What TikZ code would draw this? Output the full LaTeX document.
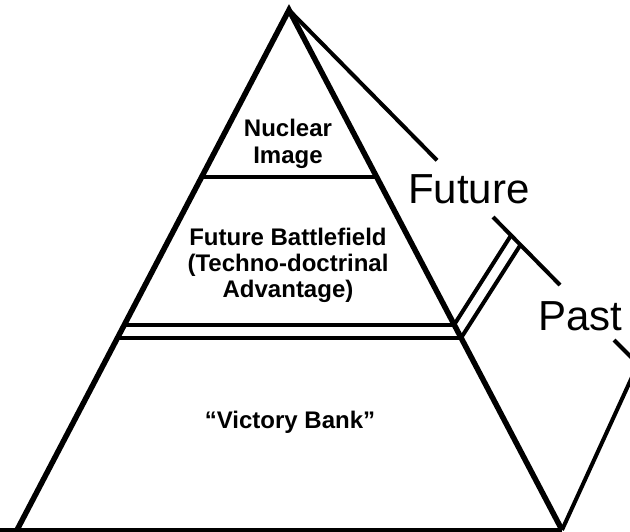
\documentclass[tikz,border=0pt]{standalone}
\usepackage{fontspec}
\setmainfont{Liberation Sans}
\begin{document}
\begin{tikzpicture}[x=1pt,y=-1pt,
  edge/.style={line width=5.5pt,line join=miter},
  thin line/.style={line width=4pt},
  lab/.style={font=\bfseries\fontsize{24}{27}\selectfont,anchor=base,inner sep=0pt},
  big/.style={font=\fontsize{42}{48}\selectfont,anchor=base,inner sep=0pt}]
\useasboundingbox (0,0) rectangle (630,531);
\clip (0,0) rectangle (630,531);
% key points
\coordinate (apex) at (289,10);
\coordinate (bl) at (17,530);
\coordinate (br) at (562,530);
\coordinate (far) at (638,364);
% pyramid
\draw[edge] (bl) -- (apex) -- (br);
\draw[thin line] (0,530) -- (br);
% internal dividers
\coordinate (n1) at (201.6,177); \coordinate (n2) at (376.4,177);
\draw[thin line] (n1) -- (n2);
\coordinate (d1l) at (124,325); \coordinate (d1r) at (454,325);
\coordinate (d2l) at (117,338); \coordinate (d2r) at (461,338);
\draw[thin line] (d1l) -- (d1r);
\draw[thin line] (d2l) -- (d2r);
% double diagonal
\coordinate (a1) at (511,235.4);
\coordinate (b1) at (520.5,244.8);
\draw[thin line] (d1r) -- (a1);
\draw[thin line] (d2r) -- (b1);
% side line from apex, broken by labels
\coordinate (s1) at (437,160.3);
\coordinate (s2) at (493,217);
\coordinate (s3) at (560,285);
\coordinate (s4) at (614,340);
\draw[thin line] (apex) -- (s1);
\draw[thin line] (s2) -- (s3);
\draw[thin line] (s4) -- (far) -- (br);
% labels
\node[lab] (nuc1) at (288,136) {Nuclear};
\node[lab] (nuc2) at (288,163) {Image};
\node[lab] (fb1) at (288,245) {Future Battlefield};
\node[lab] (fb2) at (288,271) {(Techno-doctrinal};
\node[lab] (fb3) at (288,297) {Advantage)};
\node[lab] (vb) at (290,428) {“Victory Bank”};
\node[big] (fut) at (469,203) {Future};
\node[big] (past) at (580.5,330) {Past};
\end{tikzpicture}
\end{document}
